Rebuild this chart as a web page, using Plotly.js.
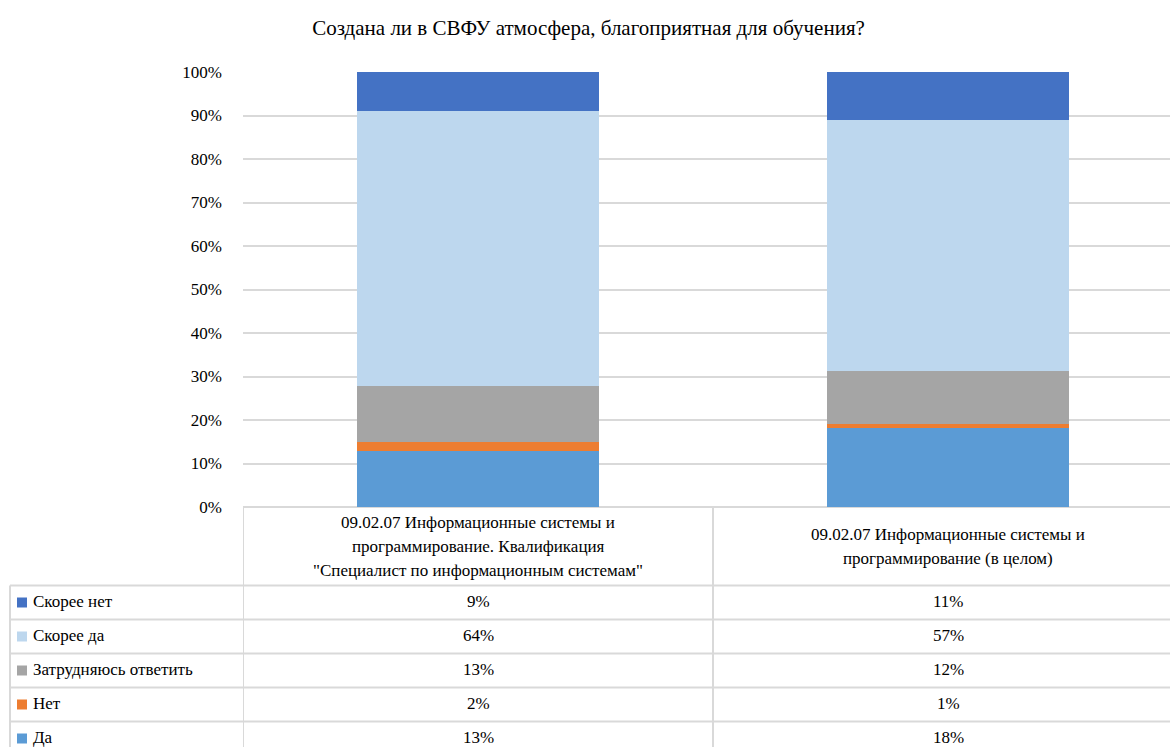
<!DOCTYPE html>
<html>
<head>
<meta charset="utf-8">
<script src="https://cdn.plot.ly/plotly-3.0.1.min.js"></script>
<style>
html,body{margin:0;padding:0;background:#fff;}
#chart text{font-family:'Liberation Serif','Times New Roman',serif !important;}
</style>
</head>
<body>
<div id="chart"></div>
<script>
// ---- data ----
const chartTitle = 'Создана ли в СВФУ атмосфера, благоприятная для обучения?';
const categories = [
  '09.02.07 Информационные системы и<br>программирование. Квалификация<br>"Специалист по информационным системам"',
  '09.02.07 Информационные системы и<br>программирование (в целом)'
];
// stacked bottom -> top
const seriesNames = ['Да', 'Нет', 'Затрудняюсь ответить', 'Скорее да', 'Скорее нет'];
const valDa = [13, 18];
const valNet = [2, 1];
const valZatr = [13, 12];
const valSkoreeDa = [64, 57];
const valSkoreeNet = [9, 11];
const yTickVals = [0, 10, 20, 30, 40, 50, 60, 70, 80, 90, 100];

const seriesValues = [valDa, valNet, valZatr, valSkoreeDa, valSkoreeNet];
const colors = ['#5B9BD5', '#ED7D31', '#A5A5A5', '#BDD7EE', '#4472C4'];

// ---- geometry ----
const W = 1170, H = 747, L = 243, T = 72, B = 240, R = 0;
const plotW = W - L - R, plotH = H - T - B;
const catPx = 470;
const serifFam = 'Liberation Serif';
const gridCol = '#d9d9d9';
function py(Y) { return (H - B - Y) / plotH; }
function pxp(X) { return (X - L) / plotW; }

const xs = categories.map((c, i) => i);
const traces = seriesNames.map((n, k) => ({
  type: 'bar', name: n, x: xs, y: seriesValues[k],
  marker: { color: colors[k], line: { width: 0 } },
  hoverinfo: 'name+y'
}));

const shapes = [];
const annotations = [];
const lineStyle = { color: gridCol, width: 2 };

// table geometry
const headerTop = 507, headerBot = 585.5;
const rowH = 34;
const nRows = seriesNames.length;
const rowTops = [];
for (let r = 0; r <= nRows; r++) rowTops.push(headerBot + r * rowH);

// vertical lines: column borders at category boundaries
for (let i = 0; i <= categories.length; i++) {
  shapes.push({ type: 'line', xref: 'x', yref: 'paper', x0: i - 0.5, x1: i - 0.5,
    y0: py(headerTop), y1: py(H + 10), line: lineStyle });
}
// left border of legend column
shapes.push({ type: 'line', xref: 'paper', yref: 'paper', x0: pxp(10), x1: pxp(10),
  y0: py(headerBot), y1: py(H + 10), line: lineStyle });
// horizontal lines
rowTops.forEach(Y => {
  shapes.push({ type: 'line', xref: 'paper', yref: 'paper', x0: pxp(10), x1: 1.02,
    y0: py(Y), y1: py(Y), line: lineStyle });
});

// header texts (category labels), line by line
const headerMid = (headerTop + headerBot) / 2;
const lineGap = 24;
categories.forEach((c, i) => {
  const lines = c.split('<br>');
  lines.forEach((ln, j) => {
    const yc = headerMid + (j - (lines.length - 1) / 2) * lineGap;
    annotations.push({ xref: 'x', yref: 'paper', x: i, y: py(yc), text: ln,
      showarrow: false, xanchor: 'center', yanchor: 'middle',
      font: { family: serifFam, size: 17, color: '#000' } });
  });
});

// table rows: top row = last series
for (let r = 0; r < nRows; r++) {
  const k = nRows - 1 - r;
  const yc = rowTops[r] + rowH / 2 - 1;
  shapes.push({ type: 'rect', xref: 'paper', yref: 'paper',
    x0: pxp(17), x1: pxp(27), y0: py(yc - 4), y1: py(yc + 6),
    fillcolor: colors[k], line: { width: 0 } });
  annotations.push({ xref: 'paper', yref: 'paper', x: pxp(31), y: py(yc), text: seriesNames[k],
    showarrow: false, xanchor: 'left', yanchor: 'middle',
    font: { family: serifFam, size: 17, color: '#000' } });
  seriesValues[k].forEach((v, i) => {
    annotations.push({ xref: 'x', yref: 'paper', x: i, y: py(yc), text: v + '%',
      showarrow: false, xanchor: 'center', yanchor: 'middle',
      font: { family: serifFam, size: 17, color: '#000' } });
  });
}

const layout = {
  width: W, height: H,
  margin: { l: L, r: R, t: T, b: B, pad: 0 },
  paper_bgcolor: '#fff', plot_bgcolor: '#fff',
  font: { family: serifFam, color: '#000' },
  barmode: 'stack', barnorm: 'percent', bargap: 0.487,
  showlegend: false,
  title: { text: chartTitle, x: 0.503, xanchor: 'center', y: 1 - 28 / H, yanchor: 'middle',
    font: { family: serifFam, size: 21, color: '#000' } },
  xaxis: { range: [-0.5, plotW / catPx - 0.5], showticklabels: false, showgrid: false,
    zeroline: false, showline: false, ticks: '', fixedrange: true },
  yaxis: { range: [0, 100], tickvals: yTickVals, ticktext: yTickVals.map(v => v + '%'),
    showgrid: true, gridcolor: gridCol, gridwidth: 2, zeroline: true, zerolinecolor: gridCol,
    zerolinewidth: 2, showline: false, ticks: '', ticklabelstandoff: 20,
    tickfont: { family: serifFam, size: 17, color: '#000' }, fixedrange: true },
  shapes: shapes,
  annotations: annotations
};

Plotly.newPlot('chart', traces, layout, { displayModeBar: false });
</script>
</body>
</html>
